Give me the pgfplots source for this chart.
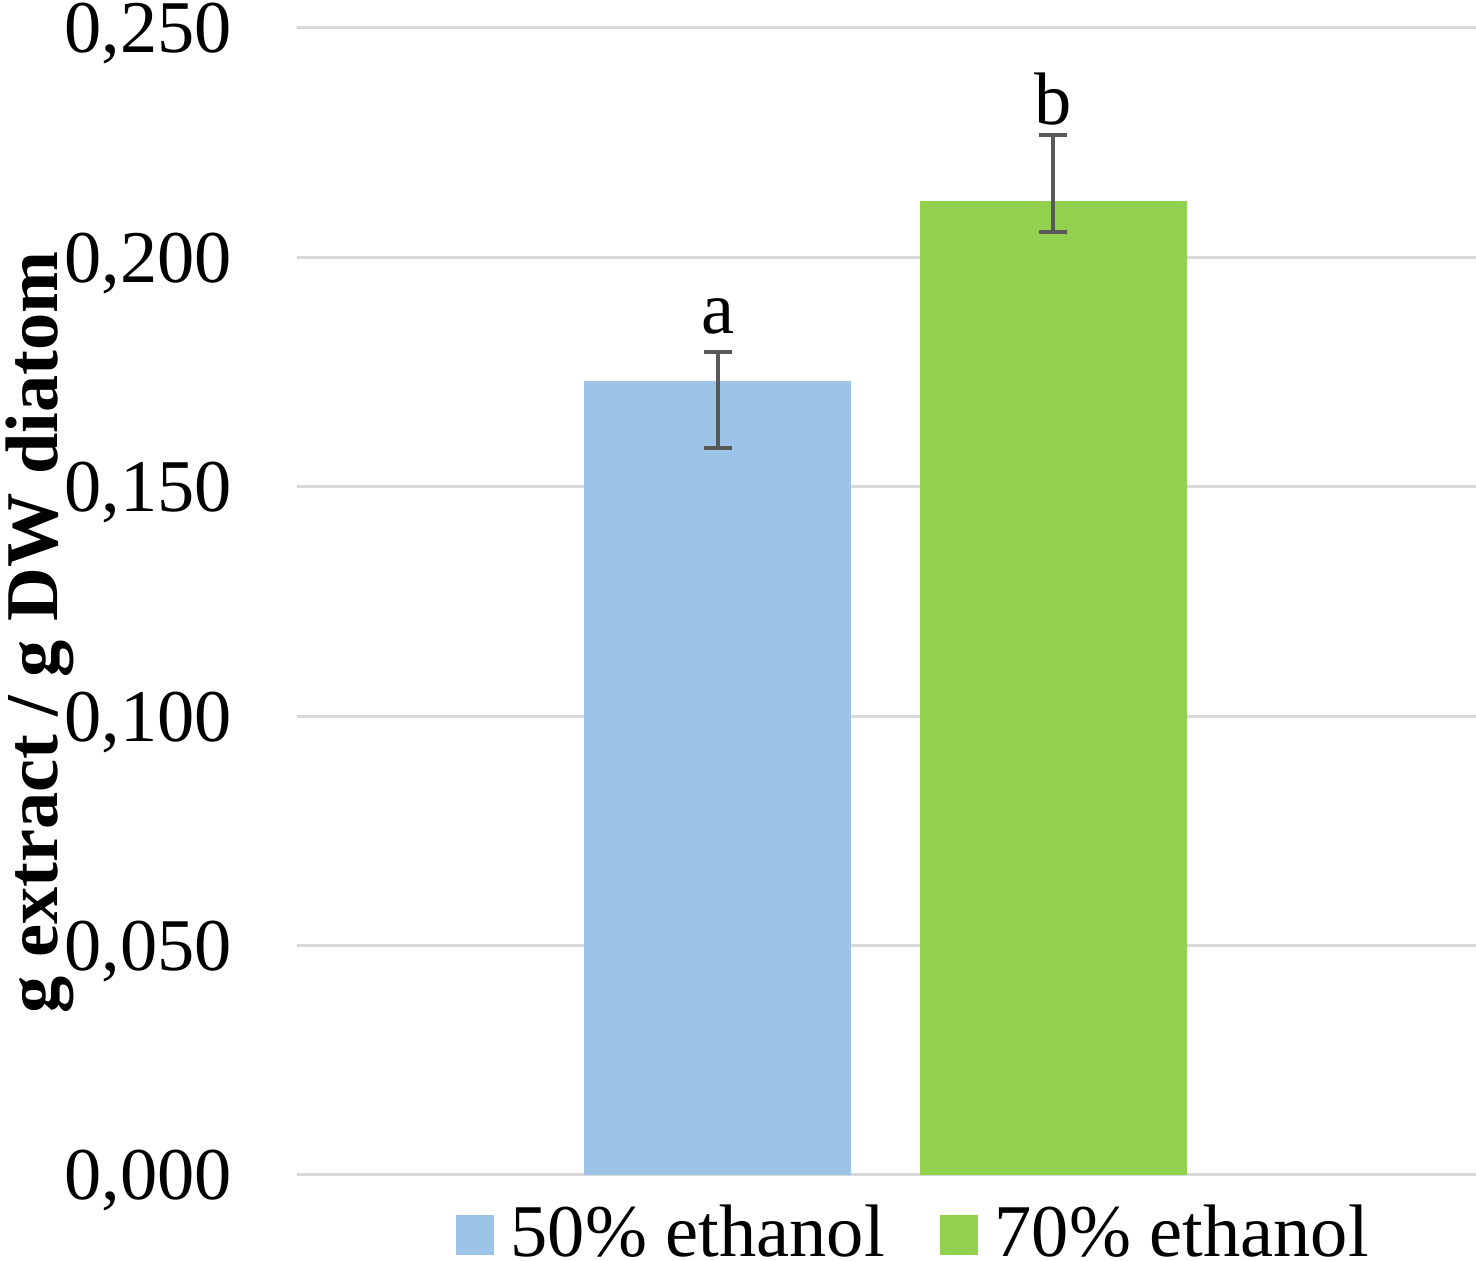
\documentclass[border=0pt]{standalone}
\usepackage{fontspec}
\setmainfont{Liberation Serif}
\usepackage{pgfplots}
\pgfplotsset{compat=1.18}
\definecolor{barblue}{HTML}{9DC3E6}
\definecolor{bargreen}{HTML}{92D050}
\definecolor{gridgray}{HTML}{D9D9D9}
\definecolor{errgray}{HTML}{595959}
\begin{document}
\fontsize{18.6}{22}\selectfont
\begin{tikzpicture}
\begin{axis}[
  name=ax,
  width=294.75pt, height=286.75pt, scale only axis,
  xmin=-3.513, xmax=3.525, ymin=0, ymax=0.25,
  axis line style={draw=none},
  xtick=\empty,
  ytick={0,0.05,0.1,0.15,0.2,0.25},
  ymajorgrids, grid style={gridgray, line width=0.75pt},
  major tick length=0pt,
  tick label style={font=\fontsize{18.6}{22}\selectfont},
  yticklabel style={/pgf/number format/fixed, /pgf/number format/fixed zerofill,
    /pgf/number format/precision=3, /pgf/number format/use comma,
    /pgf/number format/assume math mode=true, inner sep=0pt, anchor=base east,
    xshift=-16pt, yshift=-6.25pt},
  ylabel={g extract / g DW diatom},
  ylabel style={font=\fontsize{18.6}{22}\selectfont\bfseries, at={(axis description cs:-0.218,0.473)}, anchor=center},
  legend columns=2,
  legend style={draw=none, fill=none, inner sep=0pt, at={(axis description cs:0.134,0)}, anchor=north west, yshift=-7.25pt,
    font=\fontsize{18.6}{22}\selectfont, nodes={inner sep=0pt},
    /tikz/every odd column/.append style={column sep=4.25pt},
    /tikz/every even column/.append style={column sep=13.75pt}},
]
\addplot[ybar, bar width=1.594, fill=barblue, draw=none,
  legend image code/.code={\fill[barblue] (0pt,-4.75pt) rectangle (9.5pt,5.25pt);},
  error bars/.cd, y dir=both, y explicit,
  error bar style={errgray, line width=1pt},
  error mark options={errgray, line width=1pt, mark size=3.5pt, rotate=90}]
  coordinates {(-1,0.1731) += (0,0.0063) -= (0,0.0147)};
\addlegendentry{50\% ethanol}
\addplot[ybar, bar width=1.594, fill=bargreen, draw=none,
  legend image code/.code={\fill[bargreen] (0pt,-4.75pt) rectangle (9.5pt,5.25pt);},
  error bars/.cd, y dir=both, y explicit,
  error bar style={errgray, line width=1pt},
  error mark options={errgray, line width=1pt, mark size=3.5pt, rotate=90}]
  coordinates {(1,0.2123) += (0,0.0144) -= (0,0.0068)};
\addlegendentry{70\% ethanol}
\node[anchor=base, font=\fontsize{18.6}{22}\selectfont] at (axis cs:-1,0.1835) {a};
\node[anchor=base, font=\fontsize{18.6}{22}\selectfont] at (axis cs:1,0.2289) {b};
\end{axis}
\pgfresetboundingbox
\path ([shift={(-74.25pt,-21.5pt)}]ax.south west) rectangle ([shift={(0pt,7pt)}]ax.north east);
\end{tikzpicture}
\end{document}
